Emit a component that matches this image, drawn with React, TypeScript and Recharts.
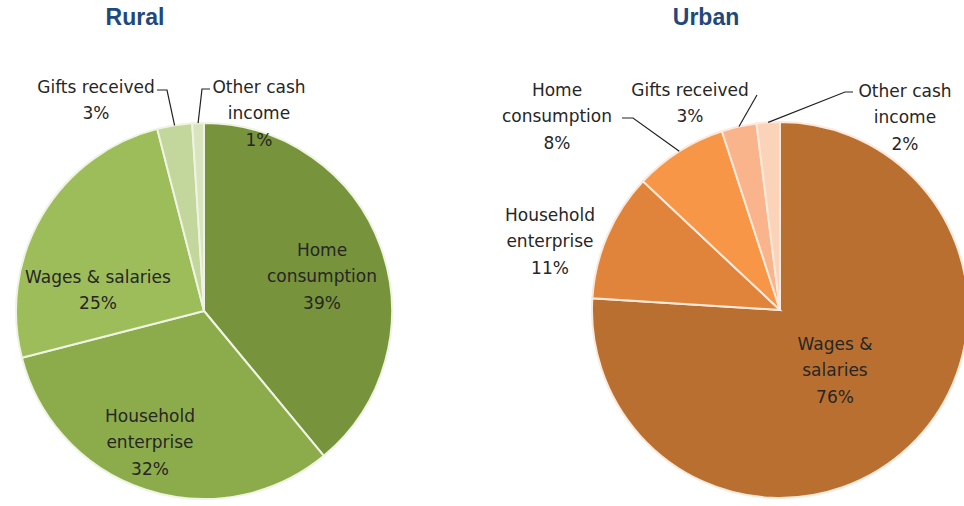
import React from 'react';
import { PieChart, Pie, Cell } from 'recharts';

// Income sources, shares in percent, clockwise from 12 o'clock
const ruralCategories = ['Home consumption', 'Household enterprise', 'Wages & salaries', 'Gifts received', 'Other cash income'];
const ruralValues = [39, 32, 25, 3, 1];
const ruralLabelLines = [['Home', 'consumption'], ['Household', 'enterprise'], ['Wages & salaries'], ['Gifts received'], ['Other cash', 'income']];

const urbanCategories = ['Wages & salaries', 'Household enterprise', 'Home consumption', 'Gifts received', 'Other cash income'];
const urbanValues = [76, 11, 8, 3, 2];
const urbanLabelLines = [['Wages &', 'salaries'], ['Household', 'enterprise'], ['Home', 'consumption'], ['Gifts received'], ['Other  cash', 'income']];

const ruralColors = ['#77933c', '#8cab4b', '#9dbc5a', '#c3d69b', '#d7e4bd'];
const urbanColors = ['#b96f30', '#e0843b', '#f79646', '#fab48b', '#fbd3b8'];

// label placement, offsets from the pie centre; leader = [elbowX, elbowY, endX, endY]
type LabelPos = { dx: number; dy: number; leader?: number[] };
const ruralLabelPos: LabelPos[] = [
  { dx: 118, dy: -35 },
  { dx: -54, dy: 131 },
  { dx: -106, dy: -21 },
  { dx: -108, dy: -211, leader: [-37, -221, -47, -221] },
  { dx: 55, dy: -198, leader: [-2, -222, 6, -222] },
];
const urbanLabelPos: LabelPos[] = [
  { dx: 55, dy: 60 },
  { dx: -230, dy: -69 },
  { dx: -223, dy: -194, leader: [-147, -192, -158, -192] },
  { dx: -90, dy: -207, leader: [-23, -215, -23, -215] },
  { dx: 125, dy: -193, leader: [65, -218, 73, -218] },
];

const RAD = Math.PI / 180;
const LINE_H = 26.5;

const makeLabel = (lines: string[][], pos: LabelPos[]) => (props: any) => {
  const { cx, cy, midAngle, outerRadius, index, value } = props;
  const p = pos[index];
  const rows = [...lines[index], `${value}%`];
  const bx = cx + p.dx;
  const by = cy + p.dy;
  let leader = null;
  if (p.leader) {
    const ex = cx + outerRadius * Math.cos(-midAngle * RAD);
    const ey = cy + outerRadius * Math.sin(-midAngle * RAD);
    const [kx, ky, tx, ty] = p.leader;
    leader = (
      <path
        d={`M${ex},${ey} L${cx + kx},${cy + ky} L${cx + tx},${cy + ty}`}
        stroke="#222"
        strokeWidth={1.2}
        fill="none"
      />
    );
  }
  return (
    <g key={`lbl-${index}`}>
      {leader}
      {rows.map((r, i) => (
        <text
          key={i}
          x={bx}
          y={by + (i - (rows.length - 1) / 2) * LINE_H}
          textAnchor="middle"
          dominantBaseline="central"
          fill="#262626"
          fontSize={17}
          fontFamily="DejaVu Sans, sans-serif"
        >
          {r}
        </text>
      ))}
    </g>
  );
};

const ruralData = ruralCategories.map((name, i) => ({ name, value: ruralValues[i] }));
const urbanData = urbanCategories.map((name, i) => ({ name, value: urbanValues[i] }));

const titleStyle: React.CSSProperties = {
  position: 'absolute',
  top: 4,
  fontFamily: 'Liberation Sans, Arial, sans-serif',
  fontWeight: 'bold',
  fontSize: 23,
  color: '#1f497d',
  transform: 'translateX(-50%)',
};

const App: React.FC = () => {
  return (
    <div style={{ position: 'absolute', left: 0, top: 0, width: 964, height: 506, background: '#fff' }}>
      <PieChart width={964} height={506} margin={{ top: 0, right: 0, bottom: 0, left: 0 }}>
        <Pie
          data={ruralData}
          dataKey="value"
          nameKey="name"
          cx={204}
          cy={311}
          outerRadius={188}
          startAngle={90}
          endAngle={-270}
          stroke="#eef3e2"
          strokeWidth={2}
          label={makeLabel(ruralLabelLines, ruralLabelPos)}
          labelLine={false}
          isAnimationActive={false}
        >
          {ruralData.map((d, i) => (
            <Cell key={d.name} fill={ruralColors[i]} />
          ))}
        </Pie>
        <Pie
          data={urbanData}
          dataKey="value"
          nameKey="name"
          cx={780}
          cy={310}
          outerRadius={188}
          startAngle={90}
          endAngle={-270}
          stroke="#fbe9dc"
          strokeWidth={2}
          label={makeLabel(urbanLabelLines, urbanLabelPos)}
          labelLine={false}
          isAnimationActive={false}
        >
          {urbanData.map((d, i) => (
            <Cell key={d.name} fill={urbanColors[i]} />
          ))}
        </Pie>
      </PieChart>
      <div style={{ ...titleStyle, left: 135 }}>Rural</div>
      <div style={{ ...titleStyle, left: 706 }}>Urban</div>
    </div>
  );
};

export default App;
